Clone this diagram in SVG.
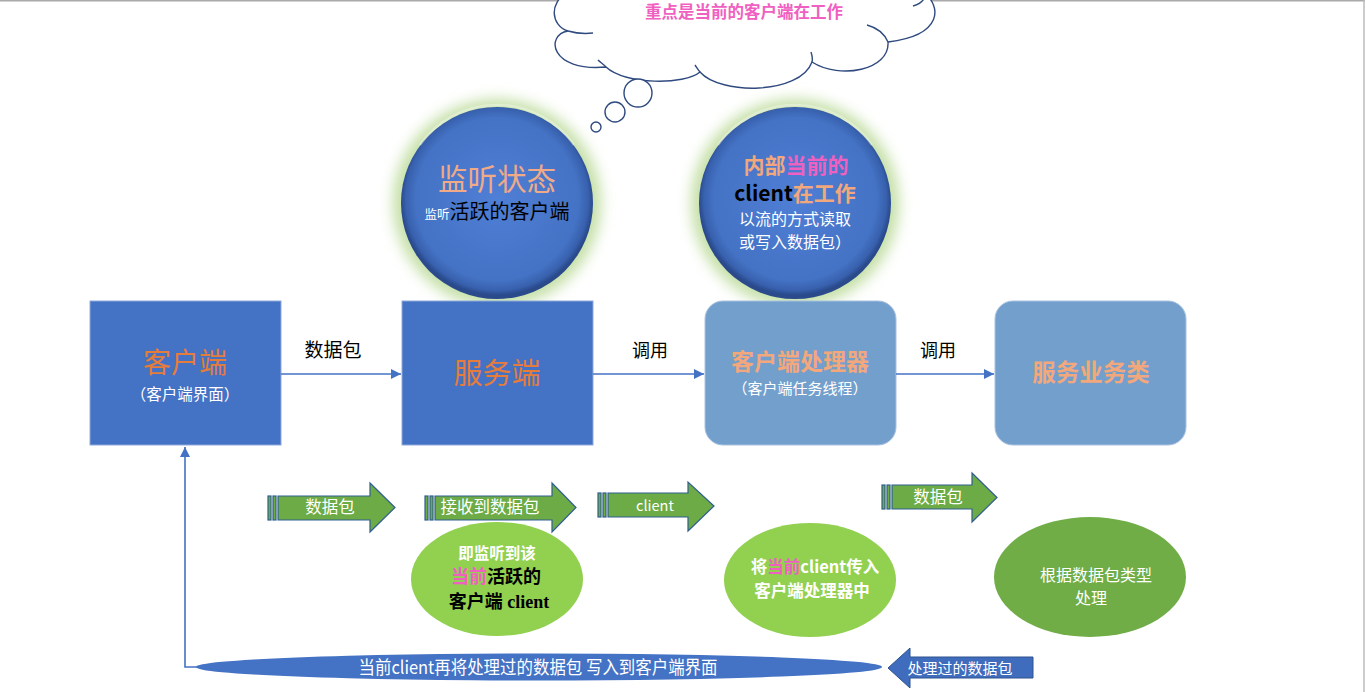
<svg xmlns="http://www.w3.org/2000/svg" width="1365" height="692" viewBox="0 0 1365 692">
<style>
.cj{font-family:"Noto Sans CJK SC","Noto Sans",sans-serif}
.sf{font-family:"Liberation Serif","Noto Sans CJK SC",serif}
.box{fill:#4472c4;stroke:#8eaadb;stroke-width:1}
.rbox{fill:#739fcc;stroke:#a9c2e0;stroke-width:1}
.garrow{fill:#6cab45;stroke:#2f5f8f;stroke-width:1.2}
.conn{stroke:#4472c4;stroke-width:1.6;fill:none}
.wt{fill:#ffffff}
.bk{fill:#000000}
.or{fill:#e67c3a}
.sa{fill:#f2a77c}
.pk{fill:#f060c0}
</style>
<defs>
<radialGradient id="ball" cx="50%" cy="48%" r="50%">
<stop offset="0" stop-color="#4f7fd6"/>
<stop offset="0.85" stop-color="#4472c4"/>
<stop offset="0.95" stop-color="#3861ae"/>
<stop offset="1" stop-color="#2a4a8c"/>
</radialGradient>
<filter id="glow" x="-30%" y="-30%" width="160%" height="160%">
<feGaussianBlur stdDeviation="7"/>
</filter>
<marker id="ah" viewBox="0 0 10 10" refX="10" refY="5" markerWidth="10" markerHeight="10" markerUnits="userSpaceOnUse" orient="auto">
<path d="M0,0 L10,5 L0,10 z" fill="#4472c4"/>
</marker>
</defs>
<rect x="0" y="0" width="1365" height="692" fill="#ffffff"/>
<line x1="0" y1="0.8" x2="1365" y2="0.8" stroke="#aaaaaa" stroke-width="1.6"/>
<line x1="1364" y1="0" x2="1364" y2="692" stroke="#bbbbbb" stroke-width="1.5"/>

<g id="cloud">
<path d="M566,-6 C550,2 550,25 568,31 C545,35 550,72 606,67 C625,85 685,85 700,72 C720,95 800,95 812,62 C840,80 890,70 888,42 C945,35 940,5 925,-6 Z" fill="#ffffff" stroke="#2f4a7f" stroke-width="1.4"/>
<path d="M568,31 C575,33 585,34 593,33 M606,67 C603,64 600,62 598,60 M700,72 C698,70 697,68 695,65 M812,62 C813,58 812,55 811,52 M888,42 C885,35 878,28 867,25 M925,-6 C925,0 920,4 913,6" fill="none" stroke="#2f4a7f" stroke-width="1.4"/>
<circle cx="638" cy="93" r="14" fill="#ffffff" stroke="#2f4a7f" stroke-width="1.4"/>
<circle cx="615" cy="112" r="10" fill="#ffffff" stroke="#2f4a7f" stroke-width="1.4"/>
<circle cx="596" cy="127" r="5" fill="#ffffff" stroke="#2f4a7f" stroke-width="1.4"/>
<text x="744" y="18" text-anchor="middle" class="cj pk" font-size="16.5" font-weight="bold">重点是当前的客户端在工作</text>
</g>

<g id="listen-circle">
<circle cx="497" cy="203" r="104" fill="#c4dfa6" filter="url(#glow)"/>
<circle cx="497" cy="203" r="96" fill="url(#ball)"/>
<path d="M420,145 A94 94 0 0 1 574,145" fill="none" stroke="#ffffff" stroke-opacity="0.35" stroke-width="2.5"/>
<text x="497" y="190" text-anchor="middle" class="cj" font-size="29.5" fill="#f0aa88">监听状态</text>
<text x="497" y="219" text-anchor="middle" class="cj" font-size="20"><tspan class="wt" font-size="12.5">监听</tspan><tspan class="bk">活跃的客户端</tspan></text>
</g>

<g id="work-circle">
<circle cx="795" cy="203" r="104" fill="#c4dfa6" filter="url(#glow)"/>
<circle cx="795" cy="203" r="96" fill="url(#ball)"/>
<path d="M718,145 A94 94 0 0 1 872,145" fill="none" stroke="#ffffff" stroke-opacity="0.35" stroke-width="2.5"/>
<text x="796" y="173" text-anchor="middle" class="cj" font-size="21" font-weight="bold"><tspan class="sa">内部</tspan><tspan class="pk">当前的</tspan></text>
<text x="795" y="201" text-anchor="middle" class="cj" font-size="21" font-weight="bold"><tspan class="bk">client</tspan><tspan class="sa">在工作</tspan></text>
<text x="795" y="225" text-anchor="middle" class="cj wt" font-size="16">以流的方式读取</text>
<text x="795" y="248" text-anchor="middle" class="cj wt" font-size="16">或写入数据包）</text>
</g>

<g id="client">
<rect x="90" y="301" width="191" height="144" class="box"/>
<text x="185" y="373" text-anchor="middle" class="cj or" font-size="28">客户端</text>
<text x="185" y="400" text-anchor="middle" class="cj wt" font-size="15.5">（客户端界面）</text>
</g>

<g id="server">
<rect x="402" y="301" width="191" height="144" class="box"/>
<text x="497" y="384" text-anchor="middle" class="cj or" font-size="29">服务端</text>
</g>

<g id="handler">
<rect x="705" y="301" width="191" height="144" rx="18" class="rbox"/>
<text x="800" y="370" text-anchor="middle" class="cj sa" font-size="23" font-weight="bold">客户端处理器</text>
<text x="800" y="394" text-anchor="middle" class="cj wt" font-size="15">（客户端任务线程）</text>
</g>

<g id="service">
<rect x="995" y="301" width="191" height="144" rx="18" class="rbox"/>
<text x="1091" y="381" text-anchor="middle" class="cj sa" font-size="23.5" font-weight="bold">服务业务类</text>
</g>

<g id="connectors">
<line x1="281" y1="374" x2="401" y2="374" class="conn" marker-end="url(#ah)"/>
<text x="333" y="357" text-anchor="middle" class="cj bk" font-size="19">数据包</text>
<line x1="593" y1="374" x2="704" y2="374" class="conn" marker-end="url(#ah)"/>
<text x="650" y="357" text-anchor="middle" class="cj bk" font-size="18">调用</text>
<line x1="896" y1="374" x2="994" y2="374" class="conn" marker-end="url(#ah)"/>
<text x="938" y="357" text-anchor="middle" class="cj bk" font-size="18">调用</text>
<polyline points="198,667 185,667 185,447" class="conn" marker-end="url(#ah)"/>
</g>

<g id="arrow-packet">
<rect x="268" y="496" width="3" height="24" class="garrow"/>
<rect x="273" y="496" width="3" height="24" class="garrow"/>
<path d="M278,496 L370,496 L370,483 L395,507.5 L370,532 L370,520 L278,520 Z" class="garrow"/>
<text x="330" y="513" text-anchor="middle" class="cj wt" font-size="16.5">数据包</text>
</g>

<g id="arrow-received">
<rect x="425" y="496" width="3" height="24" class="garrow"/>
<rect x="430" y="496" width="3" height="24" class="garrow"/>
<path d="M435,496 L552,496 L552,483 L576,507.5 L552,532 L552,520 L435,520 Z" class="garrow"/>
<text x="490" y="513" text-anchor="middle" class="cj wt" font-size="16.5">接收到数据包</text>
</g>

<g id="arrow-client">
<rect x="598" y="493" width="3" height="24" class="garrow"/>
<rect x="603" y="493" width="3" height="24" class="garrow"/>
<path d="M608,493 L688,493 L688,482 L714,506 L688,531 L688,517 L608,517 Z" class="garrow"/>
<text x="655" y="511" text-anchor="middle" class="cj wt" font-size="14.5">client</text>
</g>

<g id="arrow-packet2">
<rect x="882" y="485" width="3" height="24" class="garrow"/>
<rect x="887" y="485" width="3" height="24" class="garrow"/>
<path d="M892,485 L972,485 L972,473 L997,497.5 L972,522 L972,509 L892,509 Z" class="garrow"/>
<text x="938" y="503" text-anchor="middle" class="cj wt" font-size="16.5">数据包</text>
</g>

<g id="ellipse-listen">
<ellipse cx="497" cy="579" rx="86" ry="57" fill="#92d050"/>
<text x="497" y="559" text-anchor="middle" class="sf wt" font-size="15.5" font-weight="bold">即监听到该</text>
<text x="496" y="583" text-anchor="middle" class="sf" font-size="18" font-weight="bold"><tspan class="pk">当前</tspan><tspan class="bk">活跃的</tspan></text>
<text x="499" y="608" text-anchor="middle" class="sf bk" font-size="18" font-weight="bold">客户端 client</text>
</g>

<g id="ellipse-pass">
<ellipse cx="810" cy="580" rx="86" ry="57" fill="#92d050"/>
<text x="815" y="573" text-anchor="middle" class="cj wt" font-size="16.5" font-weight="bold">将<tspan class="pk">当前</tspan>client传入</text>
<text x="812" y="597" text-anchor="middle" class="cj wt" font-size="16.5" font-weight="bold">客户端处理器中</text>
</g>

<g id="ellipse-handle">
<ellipse cx="1090" cy="577" rx="96" ry="60" fill="#70ad47"/>
<text x="1040" y="581" class="cj wt" font-size="16">根据数据包类型</text>
<text x="1075" y="604" class="cj wt" font-size="16">处理</text>
</g>

<g id="write-back">
<ellipse cx="539" cy="667" rx="343" ry="13.5" fill="#4472c4"/>
<text x="538" y="674" text-anchor="middle" class="cj wt" font-size="18" textLength="359" lengthAdjust="spacingAndGlyphs">当前client再将处理过的数据包 写入到客户端界面</text>
</g>

<g id="arrow-processed">
<path d="M888,668 L910,648 L910,657 L1033,657 L1033,678 L910,678 L910,688 Z" fill="#3f6cbc" stroke="#2f528f" stroke-width="1"/>
<text x="960" y="674" text-anchor="middle" class="cj wt" font-size="15">处理过的数据包</text>
</g>
</svg>
